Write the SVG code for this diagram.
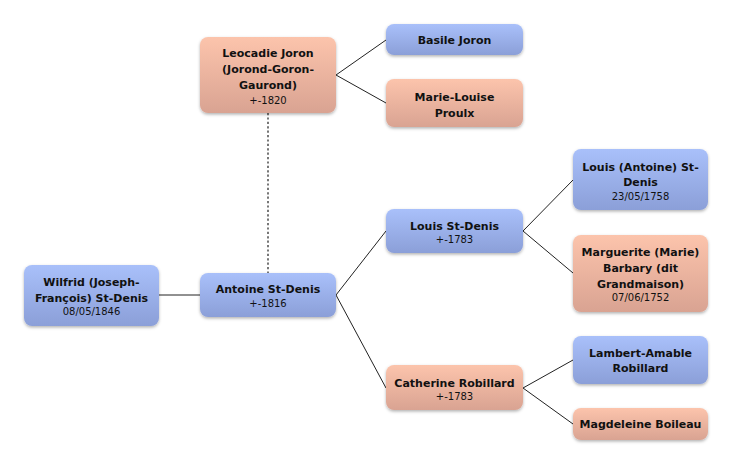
<svg xmlns="http://www.w3.org/2000/svg" width="732" height="464" viewBox="0 0 732 464">
<defs>
<linearGradient id="gBlue" x1="0" y1="0" x2="0" y2="1">
<stop offset="0" stop-color="#a9c0fa"/>
<stop offset="1" stop-color="#8b9fd8"/>
</linearGradient>
<linearGradient id="gPink" x1="0" y1="0" x2="0" y2="1">
<stop offset="0" stop-color="#fcc4ac"/>
<stop offset="1" stop-color="#d9a392"/>
</linearGradient>
<filter id="sh" x="-10%" y="-20%" width="120%" height="150%">
<feDropShadow dx="0" dy="1.5" stdDeviation="1.5" flood-color="#000" flood-opacity="0.3"/>
</filter>
</defs>
<style>
.box{filter:url(#sh)}
.m{fill:url(#gBlue)}
.f{fill:url(#gPink)}
.n{font-family:"DejaVu Sans","Liberation Sans",sans-serif;font-size:11px;font-weight:bold;fill:#111;text-anchor:middle}
.d{font-family:"DejaVu Sans","Liberation Sans",sans-serif;font-size:10px;fill:#111;text-anchor:middle}
.c{fill:none;stroke:#222;stroke-width:1}
.dot{fill:none;stroke:#777;stroke-width:2;stroke-dasharray:2.2 2.2}
</style>
<rect width="732" height="464" fill="#fff"/>
<g id="connectors">
<line class="dot" x1="268" y1="113" x2="268" y2="273"/>
<line class="c" x1="159" y1="295" x2="200" y2="295"/>
<polyline class="c" points="386,40 336,75 386,103"/>
<polyline class="c" points="386,231 336,295 386,388"/>
<polyline class="c" points="573,180 523,231 573,273"/>
<polyline class="c" points="573,360 523,388 573,424"/>
</g>
<g id="leocadie">
<rect class="box f" x="200" y="37" width="136" height="76" rx="8"/>
<text class="n" x="268" y="57">Leocadie Joron</text>
<text class="n" x="268" y="73">(Jorond-Goron-</text>
<text class="n" x="268" y="89">Gaurond)</text>
<text class="d" x="268" y="104">+-1820</text>
</g>
<g id="basile">
<rect class="box m" x="386" y="24" width="137" height="31" rx="8"/>
<text class="n" x="454.5" y="44">Basile Joron</text>
</g>
<g id="marie-louise">
<rect class="box f" x="386" y="79" width="137" height="48" rx="8"/>
<text class="n" x="454.5" y="101">Marie-Louise</text>
<text class="n" x="454.5" y="117">Proulx</text>
</g>
<g id="wilfrid">
<rect class="box m" x="24" y="265" width="135" height="61" rx="8"/>
<text class="n" x="91.5" y="286">Wilfrid (Joseph-</text>
<text class="n" x="91.5" y="302">François) St-Denis</text>
<text class="d" x="91.5" y="315">08/05/1846</text>
</g>
<g id="antoine">
<rect class="box m" x="200" y="273" width="136" height="44" rx="8"/>
<text class="n" x="268" y="293">Antoine St-Denis</text>
<text class="d" x="268" y="307">+-1816</text>
</g>
<g id="louis">
<rect class="box m" x="386" y="209" width="137" height="44" rx="8"/>
<text class="n" x="454.5" y="230">Louis St-Denis</text>
<text class="d" x="454.5" y="243">+-1783</text>
</g>
<g id="louis-antoine">
<rect class="box m" x="573" y="149" width="135" height="61" rx="8"/>
<text class="n" x="640.5" y="171">Louis (Antoine) St-</text>
<text class="n" x="640.5" y="186">Denis</text>
<text class="d" x="640.5" y="200">23/05/1758</text>
</g>
<g id="marguerite">
<rect class="box f" x="573" y="235" width="135" height="77" rx="8"/>
<text class="n" x="640.5" y="256">Marguerite (Marie)</text>
<text class="n" x="640.5" y="272">Barbary (dit</text>
<text class="n" x="640.5" y="288">Grandmaison)</text>
<text class="d" x="640.5" y="301">07/06/1752</text>
</g>
<g id="catherine">
<rect class="box f" x="386" y="365" width="137" height="45" rx="8"/>
<text class="n" x="454.5" y="387">Catherine Robillard</text>
<text class="d" x="454.5" y="400">+-1783</text>
</g>
<g id="lambert">
<rect class="box m" x="573" y="336" width="135" height="48" rx="8"/>
<text class="n" x="640.5" y="357">Lambert-Amable</text>
<text class="n" x="640.5" y="372">Robillard</text>
</g>
<g id="magdeleine">
<rect class="box f" x="573" y="408" width="135" height="32" rx="8"/>
<text class="n" x="640.5" y="428">Magdeleine Boileau</text>
</g>
</svg>
